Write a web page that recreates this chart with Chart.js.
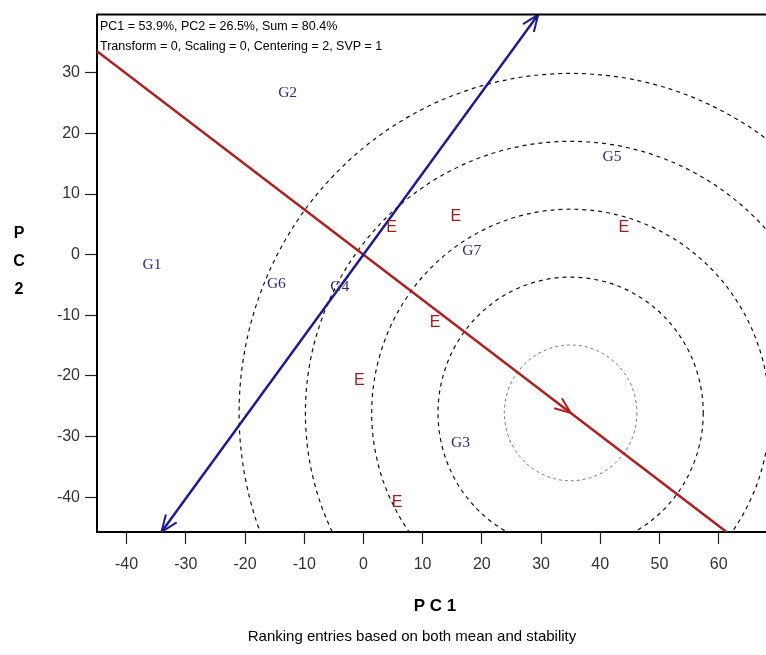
<!DOCTYPE html>
<html>
<head>
<meta charset="utf-8">
<script src="https://cdn.jsdelivr.net/npm/chart.js@4"></script>
<style>
  html, body { margin: 0; padding: 0; background: #fff; }
  #wrap { width: 766px; height: 655px; }
</style>
</head>
<body>
<div id="wrap"><canvas id="biplot" width="766" height="655"></canvas></div>
<script>
// GGE biplot values
var genotypes = ['G1', 'G2', 'G3', 'G4', 'G5', 'G6', 'G7'];
var genoPC1 = [-35.7, -12.8, 16.4, -4.0, 42.0, -14.7, 18.3];
var genoPC2 = [-1.7, 26.6, -31.1, -5.4, 16.1, -4.9, 0.6];
var envLabel = 'E';
var envPC1 = [4.75, 15.6, 44.0, 12.1, -0.7, 5.7];
var envPC2 = [4.4, 6.3, 4.5, -11.2, -20.8, -40.9];
var idealPoint = [35.0, -26.1];
var circleRadii = [11.2, 22.4, 33.6, 44.8, 56.0];
var xRange = [-45, 68];
var yRange = [-45.75, 39.6];
var xTicks = [-40, -30, -20, -10, 0, 10, 20, 30, 40, 50, 60];
var yTicks = [-40, -30, -20, -10, 0, 10, 20, 30];
var headerLines = ['PC1 = 53.9%, PC2 = 26.5%, Sum = 80.4%',
                   'Transform = 0, Scaling = 0, Centering = 2, SVP = 1'];

var RED = '#b01e1e';
var BLUE = '#1a1a96';

function toPoints(xs, ys) {
  return xs.map(function(x, i) { return {x: x, y: ys[i]}; });
}

// furthest point from the origin along (dx, dy) that stays in the axis box
function rayEnd(dx, dy) {
  var t = Infinity;
  if (dx > 0) t = Math.min(t, xRange[1] / dx);
  if (dx < 0) t = Math.min(t, xRange[0] / dx);
  if (dy > 0) t = Math.min(t, yRange[1] / dy);
  if (dy < 0) t = Math.min(t, yRange[0] / dy);
  return [dx * t, dy * t];
}

function arrowHead(ctx, tx, ty, fx, fy, len, spread) {
  var a = Math.atan2(ty - fy, tx - fx);
  ctx.beginPath();
  ctx.moveTo(tx - len * Math.cos(a - spread), ty - len * Math.sin(a - spread));
  ctx.lineTo(tx, ty);
  ctx.lineTo(tx - len * Math.cos(a + spread), ty - len * Math.sin(a + spread));
  ctx.stroke();
}

var biplotPlugin = {
  id: 'biplot',
  beforeDatasetsDraw: function(chart) {
    var ctx = chart.ctx, xs = chart.scales.x, ys = chart.scales.y, area = chart.chartArea;
    var px = function(v) { return xs.getPixelForValue(v); };
    var py = function(v) { return ys.getPixelForValue(v); };
    var ux = Math.abs(px(1) - px(0)), uy = Math.abs(py(1) - py(0));
    ctx.save();
    ctx.beginPath();
    ctx.rect(area.left, area.top, area.right - area.left, area.bottom - area.top);
    ctx.clip();

    // concentric circles round the ideal entry
    circleRadii.forEach(function(r, i) {
      ctx.beginPath();
      ctx.ellipse(px(idealPoint[0]), py(idealPoint[1]), r * ux, r * uy, 0, 0, Math.PI * 2);
      ctx.strokeStyle = i === 0 ? '#777' : '#111';
      ctx.lineWidth = i === 0 ? 1 : 1.2;
      ctx.setLineDash(i === 0 ? [3, 3] : [4, 4]);
      ctx.stroke();
    });
    ctx.setLineDash([]);

    // average environment axis (red) with arrow at the ideal point
    var dx = idealPoint[0], dy = idealPoint[1];
    var a1 = rayEnd(dx, dy), a2 = rayEnd(-dx, -dy);
    ctx.strokeStyle = RED;
    ctx.lineWidth = 2.5;
    ctx.beginPath();
    ctx.moveTo(px(a2[0]), py(a2[1]));
    ctx.lineTo(px(a1[0]), py(a1[1]));
    ctx.stroke();
    ctx.lineWidth = 2;
    arrowHead(ctx, px(dx), py(dy), px(0), py(0), 17, 0.38);

    // perpendicular axis (blue), double arrow
    var b1 = rayEnd(-dy, dx), b2 = rayEnd(dy, -dx);
    ctx.strokeStyle = BLUE;
    ctx.lineWidth = 2.5;
    ctx.beginPath();
    ctx.moveTo(px(b2[0]), py(b2[1]));
    ctx.lineTo(px(b1[0]), py(b1[1]));
    ctx.stroke();
    ctx.lineWidth = 2;
    arrowHead(ctx, px(b1[0]), py(b1[1]), px(0), py(0), 18, 0.38);
    arrowHead(ctx, px(b2[0]), py(b2[1]), px(0), py(0), 18, 0.38);
    ctx.restore();
  },
  afterDatasetsDraw: function(chart) {
    var ctx = chart.ctx, area = chart.chartArea;
    ctx.save();
    ctx.textAlign = 'center';
    ctx.textBaseline = 'middle';
    chart.data.datasets.forEach(function(ds, di) {
      var meta = chart.getDatasetMeta(di);
      ctx.fillStyle = ds.labelColor;
      ctx.font = ds.labelFont;
      meta.data.forEach(function(el, i) {
        ctx.fillText(ds.names[i], el.x, el.y);
      });
    });

    // frame top edge
    ctx.strokeStyle = '#000';
    ctx.lineWidth = 2;
    ctx.beginPath();
    ctx.moveTo(area.left, area.top);
    ctx.lineTo(chart.width, area.top);
    ctx.stroke();

    // header
    ctx.textAlign = 'left';
    ctx.fillStyle = '#000';
    ctx.font = '12.5px "Liberation Sans", Arial, sans-serif';
    ctx.fillText(headerLines[0], area.left + 3, area.top + 12);
    ctx.fillText(headerLines[1], area.left + 3, area.top + 32);

    // axis titles and caption
    ctx.textAlign = 'center';
    ctx.font = 'bold 17px "Liberation Sans", Arial, sans-serif';
    ctx.fillText('P C 1', 435, 606);
    ctx.font = 'bold 16px "Liberation Sans", Arial, sans-serif';
    ['P', 'C', '2'].forEach(function(ch, i) {
      ctx.fillText(ch, 19, 234 + i * 28);
    });
    ctx.font = '15px "Liberation Sans", Arial, sans-serif';
    ctx.fillText('Ranking entries based on both mean and stability', 412, 637);
    ctx.restore();
  }
};

function useTicks(values) {
  return function(scale) {
    scale.ticks = values.map(function(v) { return {value: v}; });
  };
}

var tickFont = {family: '"Liberation Sans", Arial, sans-serif', size: 16};

new Chart(document.getElementById('biplot').getContext('2d'), {
  type: 'scatter',
  data: {
    datasets: [{
      label: 'Genotypes',
      data: toPoints(genoPC1, genoPC2),
      names: genotypes,
      labelColor: '#2b2b86',
      labelFont: '15.5px "Liberation Serif", "Times New Roman", serif',
      pointRadius: 0
    }, {
      label: 'Environments',
      data: toPoints(envPC1, envPC2),
      names: envPC1.map(function() { return envLabel; }),
      labelColor: '#a61c1c',
      labelFont: '16px "Liberation Sans", Arial, sans-serif',
      pointRadius: 0
    }]
  },
  options: {
    responsive: false,
    animation: false,
    devicePixelRatio: 1,
    layout: { padding: { top: 9, left: 0, right: 0, bottom: 0 } },
    plugins: {
      legend: { display: false },
      tooltip: { enabled: false }
    },
    scales: {
      x: {
        type: 'linear',
        min: xRange[0],
        max: xRange[1],
        afterBuildTicks: useTicks(xTicks),
        afterFit: function(s) { s.height = 123; },
        ticks: { color: '#333', font: tickFont, padding: 11, maxRotation: 0, autoSkip: false },
        grid: { drawOnChartArea: false, drawTicks: true, tickLength: 12, tickColor: '#222', tickWidth: 1.2 },
        border: { color: '#000', width: 2 }
      },
      y: {
        type: 'linear',
        min: yRange[0],
        max: yRange[1],
        afterBuildTicks: useTicks(yTicks),
        afterFit: function(s) { s.width = 97; },
        ticks: { color: '#333', font: tickFont, padding: 5, autoSkip: false },
        grid: { drawOnChartArea: false, drawTicks: true, tickLength: 12, tickColor: '#222', tickWidth: 1.2 },
        border: { color: '#000', width: 2 }
      }
    }
  },
  plugins: [biplotPlugin]
});
</script>
</body>
</html>
